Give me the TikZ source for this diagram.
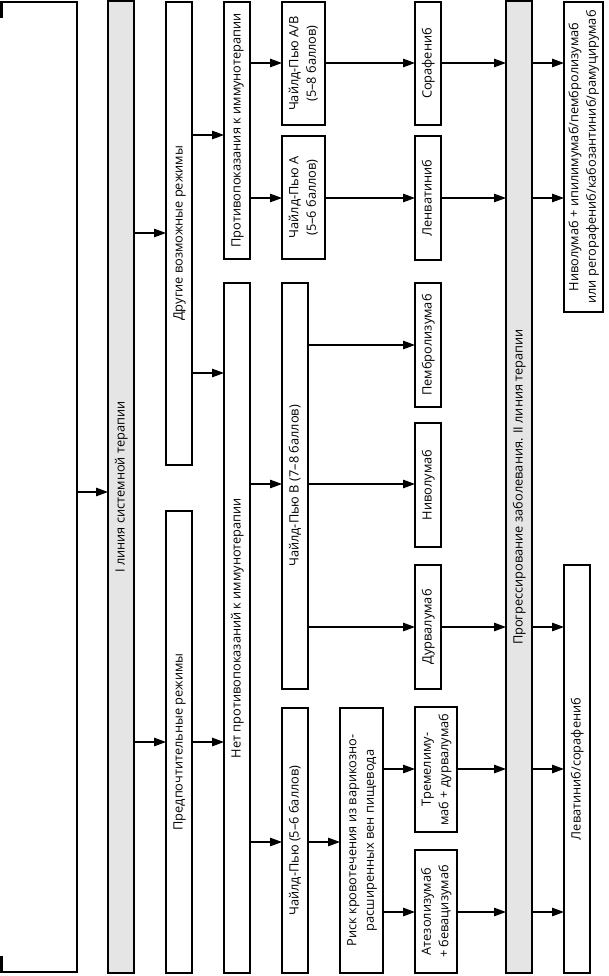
\documentclass[tikz,border=0pt]{standalone}
\usepackage{fontspec}
\setmainfont{Open Sans}
\usetikzlibrary{arrows.meta}
\newcommand{\mybox}[7]{%
  \node[#2, minimum width={(#4-#3)*1pt}, minimum height={(#6-#5)*1pt}]
    (#1) at ({(#3+#4)/2},{(#5+#6)/2})
    {\rotatebox{90}{\begin{tabular}{@{}c@{}}#7\end{tabular}}};}
\newcommand{\myconn}[3]{%
  \coordinate (tmpy) at (0,#3);
  \draw[arr] (#1.east |- tmpy) -- (#2.west |- tmpy);}
\begin{document}
\begin{tikzpicture}[x=1pt,y=-1pt,
  font=\fontsize{12.8}{17.5}\selectfont,
  box/.style={draw=black, line width=1.7pt, fill=white, rectangle, inner sep=0pt, outer sep=0pt},
  graybox/.style={box, fill=black!10},
  arr/.style={line width=1.2pt, -{Triangle[length=12pt,width=8.5pt]}},
  edge/.style={line width=1.5pt, line cap=rect}]
\useasboundingbox (0,0) rectangle (608,976);
% left frame
\node[rectangle, inner sep=0pt, outer sep=0pt, minimum width=77pt, minimum height=970pt] (L) at (38.5,487) {};
\draw[edge] (L.north west) -- (L.north east) -- (L.south east) -- (L.south west);
\draw[line width=3pt] ([xshift=1.5pt]L.north west) -- ++(0,16);
\draw[line width=3pt] ([xshift=1.5pt]L.south west) -- ++(0,-16);
% column 1
\mybox{G1}{graybox}{108}{134}{1}{973}{I линия системной терапии}
% column 2
\mybox{D}{box}{166}{192}{2}{465}{Другие возможные режимы}
\mybox{P}{box}{166}{192}{511}{973}{Предпочтительные режимы}
% column 3
\mybox{C}{box}{224}{250}{2}{259}{Противопоказания к иммунотерапии}
\mybox{N}{box}{224}{250}{283}{973}{Нет противопоказаний к иммунотерапии}
% column 4
\mybox{AB}{box}{282}{325}{2}{125}{Чайлд-Пью A/B\\(5–8 баллов)}
\mybox{A}{box}{282}{325}{136}{259}{Чайлд-Пью A\\(5–6 баллов)}
\mybox{B}{box}{282}{308}{283}{689}{Чайлд-Пью B (7–8 баллов)}
\mybox{C56}{box}{282}{308}{708}{973}{Чайлд-Пью (5–6 баллов)}
% column 5
\mybox{R}{box}{340}{383}{708}{973}{Риск кровотечения из варикозно-\\расширенных вен пищевода}
% column 6
\mybox{Sor}{box}{415}{441}{2}{125}{Сорафениб}
\mybox{Len}{box}{415}{441}{136}{260}{Ленватиниб}
\mybox{Pem}{box}{415}{441}{283}{407}{Пембролизумаб}
\mybox{Niv}{box}{415}{441}{423}{547}{Ниволумаб}
\mybox{Dur}{box}{415}{441}{565}{689}{Дурвалумаб}
\mybox{Tre}{box}{415}{457}{707}{832}{Тремелиму-\\маб + дурвалумаб}
\mybox{Ate}{box}{415}{457}{850}{973}{Атезолизумаб\\+ бевацизумаб}
% column 7
\mybox{G2}{graybox}{506}{532}{1}{973}{Прогрессирование заболевания. II линия терапии}
% column 8
\mybox{NI}{box}{564}{603}{2}{312}{Ниволумаб + ипилимумаб/пембролизумаб\\или регорафениб/кабозантиниб/рамуцирумаб}
\mybox{Lev}{box}{564}{590}{565}{973}{Леватиниб/сорафениб}
% connectors
\myconn{L}{G1}{492}
\myconn{G1}{D}{233}
\myconn{G1}{P}{742}
\myconn{D}{C}{135}
\myconn{D}{N}{373}
\myconn{P}{N}{742}
\myconn{C}{AB}{63}
\myconn{C}{A}{198}
\myconn{N}{B}{484}
\myconn{N}{C56}{842}
\myconn{AB}{Sor}{63}
\myconn{A}{Len}{198}
\myconn{B}{Pem}{345}
\myconn{B}{Niv}{484}
\myconn{B}{Dur}{627}
\myconn{C56}{R}{842}
\myconn{R}{Tre}{769}
\myconn{R}{Ate}{912}
\myconn{Sor}{G2}{63}
\myconn{Len}{G2}{198}
\myconn{Dur}{G2}{627}
\myconn{Tre}{G2}{769}
\myconn{Ate}{G2}{912}
\myconn{G2}{NI}{63}
\myconn{G2}{NI}{198}
\myconn{G2}{Lev}{627}
\myconn{G2}{Lev}{769}
\myconn{G2}{Lev}{912}
\end{tikzpicture}
\end{document}
